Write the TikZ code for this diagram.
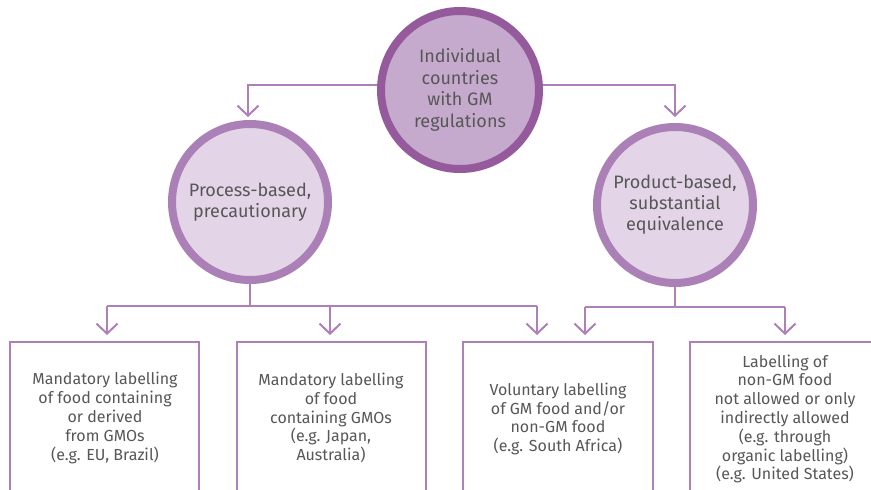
\documentclass[tikz,border=0pt]{standalone}
\usepackage{fontspec}
\setmainfont{Fira Sans}
\usetikzlibrary{arrows.meta}
\definecolor{topfill}{HTML}{C6AACD}
\definecolor{topdraw}{HTML}{945A9C}
\definecolor{midfill}{HTML}{E3D4E8}
\definecolor{middraw}{HTML}{AA80B6}
\definecolor{linecol}{HTML}{AD80B8}
\definecolor{txt}{HTML}{575757}
\tikzset{
  topcirc/.style={circle, fill=topfill, draw=topdraw, line width=8pt, minimum size=158pt, inner sep=0pt, align=center, text=txt, font=\fontsize{18}{21.5}\selectfont},
  midcirc/.style={circle, fill=midfill, draw=middraw, line width=8pt, minimum size=156pt, inner sep=0pt, align=center, text=txt, font=\fontsize{18}{21}\selectfont},
  boxtxt/.style={align=center, text=txt, font=\fontsize{16}{18.8}\selectfont},
  boxline/.style={draw=linecol, line width=2.6pt},
  conn/.style={draw=linecol, line width=2pt, -{Straight Barb[length=10pt,width=21pt,line width=2pt]}},
  plain/.style={draw=linecol, line width=2pt}
}
\begin{document}
\begin{tikzpicture}[x=1pt,y=-1pt]
\useasboundingbox (0,0) rectangle (871,490);
\fill[white] (0,0) rectangle (871,490);
% boxes
\draw[boxline] (10,500) -- (10,342) -- (199,342) -- (199,500);
\draw[boxline] (237,500) -- (237,342) -- (426,342) -- (426,500);
\draw[boxline] (463,500) -- (463,342) -- (653,342) -- (653,500);
\draw[boxline] (690,500) -- (690,342) -- (880,342);
\node[boxtxt] (b1) at (105,418) {Mandatory labelling\\of food containing\\or derived\\from GMOs\\(e.g. EU, Brazil)};
\node[boxtxt] (b2) at (331,418) {Mandatory labelling\\of food\\containing GMOs\\(e.g. Japan,\\Australia)};
\node[boxtxt] (b3) at (558,419) {Voluntary labelling\\of GM food and/or\\non-GM food\\(e.g. South Africa)};
\node[boxtxt] (b4) at (785,419) {Labelling of\\non-GM food\\not allowed or only\\indirectly allowed\\(e.g. through\\organic labelling)\\(e.g. United States)};
% coordinates for arrow tips
\coordinate (t1) at (107,335);
\coordinate (t2) at (330,335);
\coordinate (t3) at (537,335);
\coordinate (t4) at (585,335);
\coordinate (t5) at (785,335);
\coordinate (tl) at (248,117);
\coordinate (tr) at (675,117);
% circles
\node[midcirc] (left) at (250,202) {Process-based,\\precautionary};
\node[midcirc] (right) at (675,205) {Product-based,\\substantial\\equivalence};
\node[topcirc] (top) at (460,90) {\raisebox{0pt}{}Individual\\countries\\with GM\\regulations};
% connectors
\draw[conn] (top.west |- 0,85) -- (248,85) -- (tl);
\draw[conn] (top.east |- 0,85) -- (675,85) -- (tr);
\draw[plain] (left.south) -- (250,306);
\draw[conn] (107,306) -- (t1);
\draw[plain] (107,306) -- (537,306);
\draw[conn] (330,306) -- (t2);
\draw[conn] (537,306) -- (t3);
\draw[plain] (right.south) -- (675,307);
\draw[conn] (585,307) -- (t4);
\draw[plain] (585,307) -- (785,307);
\draw[conn] (785,307) -- (t5);
\end{tikzpicture}
\end{document}
